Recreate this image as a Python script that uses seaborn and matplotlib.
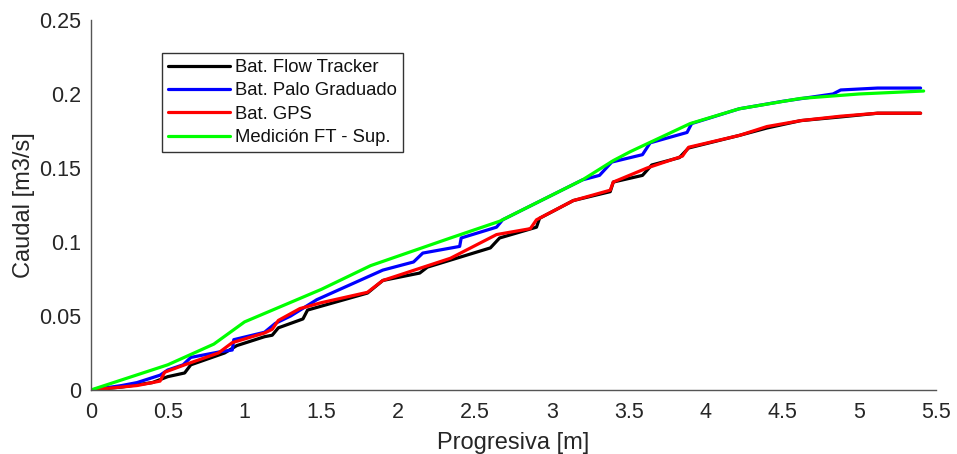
import numpy as np
import pandas as pd
import matplotlib
matplotlib.use("Agg")
import matplotlib.pyplot as plt
import seaborn as sns

# ---- data ----
x_flow = [0, 0.2, 0.4, 0.5, 0.61, 0.65, 0.87, 0.95, 1.13, 1.18, 1.22, 1.38, 1.41, 1.8, 1.9, 2.14, 2.19,
          2.6, 2.66, 2.9, 2.92, 3.14, 3.38, 3.4, 3.59, 3.65, 3.83, 3.89, 4.22, 4.4, 4.62, 4.88, 5.12, 5.4]
y_flow = [0, 0.002, 0.005, 0.009, 0.0115, 0.017, 0.025, 0.030, 0.036, 0.037, 0.042, 0.048, 0.054, 0.0655,
          0.074, 0.079, 0.083, 0.096, 0.1027, 0.110, 0.116, 0.128, 0.134, 0.1405, 0.145, 0.152, 0.157,
          0.1635, 0.172, 0.177, 0.182, 0.1845, 0.187, 0.187]

x_palo = [0, 0.2, 0.3, 0.45, 0.5, 0.6, 0.65, 0.85, 0.92, 0.93, 1.13, 1.2, 1.3, 1.47, 1.9, 2.1, 2.16,
          2.4, 2.41, 2.64, 2.68, 3.2, 3.31, 3.39, 3.59, 3.64, 3.88, 3.91, 4.22, 4.5, 4.83, 4.88, 5.12, 5.4]
y_palo = [0, 0.003, 0.005, 0.010, 0.0135, 0.017, 0.022, 0.026, 0.027, 0.034, 0.039, 0.045, 0.050, 0.061,
          0.081, 0.0865, 0.0925, 0.097, 0.1027, 0.110, 0.115, 0.142, 0.145, 0.154, 0.159, 0.167, 0.174,
          0.180, 0.190, 0.195, 0.200, 0.2027, 0.204, 0.204]

x_gps = [0, 0.3, 0.45, 0.48, 0.61, 0.83, 0.92, 1.13, 1.18, 1.22, 1.36, 1.5, 1.8, 1.9, 2.34, 2.64, 2.86,
         2.9, 3.14, 3.38, 3.4, 3.62, 3.85, 3.89, 4.22, 4.4, 4.62, 4.88, 5.12, 5.4]
y_gps = [0, 0.003, 0.006, 0.012, 0.017, 0.025, 0.032, 0.0385, 0.041, 0.047, 0.055, 0.059, 0.066, 0.074,
         0.089, 0.105, 0.109, 0.115, 0.128, 0.135, 0.1405, 0.150, 0.158, 0.164, 0.172, 0.178, 0.182,
         0.185, 0.187, 0.187]

x_ft_sup = [0, 0.5, 0.8, 1.0, 1.5, 1.82, 2.34, 2.66, 3.2, 3.4, 3.51, 3.9, 4.22, 4.62, 5.0, 5.42]
y_ft_sup = [0, 0.017, 0.031, 0.046, 0.068, 0.084, 0.1027, 0.114, 0.142, 0.155, 0.161, 0.180,
            0.190, 0.197, 0.200, 0.202]

labels = ["Bat. Flow Tracker", "Bat. Palo Graduado", "Bat. GPS", "Medición FT - Sup."]
colors = ["#000000", "#0000ff", "#ff0000", "#00ff00"]
x_ticks = [0, 0.5, 1, 1.5, 2, 2.5, 3, 3.5, 4, 4.5, 5, 5.5]
x_tick_labels = ["0", "0.5", "1", "1.5", "2", "2.5", "3", "3.5", "4", "4.5", "5", "5.5"]
y_ticks = [0, 0.05, 0.1, 0.15, 0.2, 0.25]
y_tick_labels = ["0", "0.05", "0.1", "0.15", "0.2", "0.25"]

series = [(x_flow, y_flow), (x_palo, y_palo), (x_gps, y_gps), (x_ft_sup, y_ft_sup)]
frames = []
for lab, (xs, ys) in zip(labels, series):
    frames.append(pd.DataFrame({"Progresiva": xs, "Caudal": ys, "Serie": lab}))
df = pd.concat(frames, ignore_index=True)

sns.set_theme(style="white")
plt.rcParams["font.family"] = ["Liberation Sans", "DejaVu Sans"]

fig = plt.figure(figsize=(9.57, 4.54), dpi=100)
ax = fig.add_axes([0.095, 0.141, 0.883, 0.815])

sns.lineplot(data=df, x="Progresiva", y="Caudal", hue="Serie", hue_order=labels,
             palette=dict(zip(labels, colors)), estimator=None, sort=False,
             linewidth=2.3, ax=ax)

ax.set_xlim(0, 5.5)
ax.set_ylim(0, 0.25)
ax.set_xticks(x_ticks)
ax.set_xticklabels(x_tick_labels)
ax.set_yticks(y_ticks)
ax.set_yticklabels(y_tick_labels)

tc = "#262626"
sc = "#555555"
for s in ["top", "right"]:
    ax.spines[s].set_visible(False)
for s in ["left", "bottom"]:
    ax.spines[s].set_color(sc)
    ax.spines[s].set_linewidth(1.0)
ax.tick_params(axis="both", direction="in", length=6, width=1.0, color=sc,
               labelsize=15.5, labelcolor=tc)
ax.tick_params(axis="x", pad=9)
ax.tick_params(axis="y", pad=7)

ax.set_xlabel("Progresiva [m]", fontsize=17, color=tc, labelpad=6)
ax.set_ylabel("Caudal [m3/s]", fontsize=17, color=tc, labelpad=3)

leg = ax.legend(loc="upper left", bbox_to_anchor=(0.084, 0.911), fontsize=13.3,
                frameon=True, fancybox=False, edgecolor="#333333", framealpha=1,
                handlelength=3.35, handletextpad=0.3, borderpad=0.33, labelspacing=0.35,
                borderaxespad=0)
leg.get_frame().set_linewidth(1.0)
for t in leg.get_texts():
    t.set_color("#111111")

fig.savefig("out.png", dpi=100)
